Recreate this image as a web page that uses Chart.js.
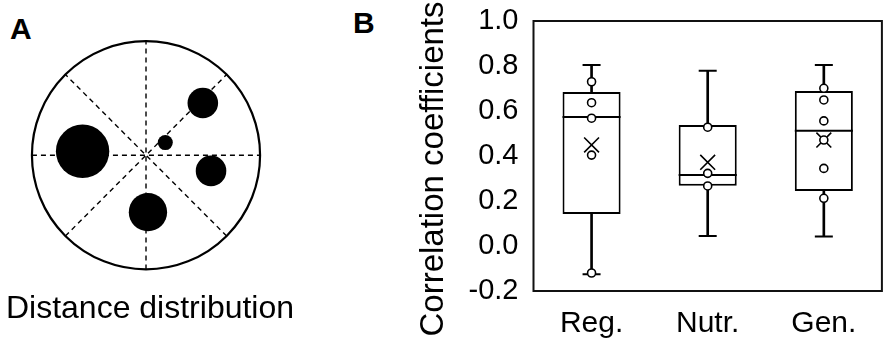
<!DOCTYPE html>
<html>
<head>
<meta charset="utf-8">
<script src="https://cdn.jsdelivr.net/npm/chart.js@4"></script>
<style>
    body { margin: 0; background: #fff; width: 894px; height: 347px; position: relative; overflow: hidden;
           font-family: "Liberation Sans", Arial, sans-serif; }
    .panel { position: absolute; top: 0; height: 347px; }
    #wrapA { left: 0; width: 300px; }
    #wrapB { left: 380px; width: 514px; }
    .tag { position: absolute; font-weight: bold; font-size: 30px; line-height: 1; color: #000; }
</style>
</head>
<body>
<div class="tag" style="left:10px; top:14px">A</div>
<div class="tag" style="left:353px; top:8px">B</div>
<div class="panel" id="wrapA"><canvas id="chartA" width="300" height="347"></canvas></div>
<div class="panel" id="wrapB"><canvas id="chartB" width="514" height="347"></canvas></div>
<script>
// panel A: dots inside a unit circle (x, y, size relative to circle radius)
const dotX = [-0.556, 0.498, 0.169, 0.570, 0.017];
const dotY = [0.035, 0.457, 0.111, -0.137, -0.498];
const dotSize = [0.234, 0.134, 0.066, 0.134, 0.168];
const spokeAngles = [0, 45, 90, 135];

// panel B: box plot summary per group
const categories = ['Reg.', 'Nutr.', 'Gen.'];
const whiskerMin = [-0.125, 0.045, 0.042];
const q1 = [0.142, 0.268, 0.244];
const median = [0.573, 0.316, 0.512];
const q3 = [0.684, 0.538, 0.689];
const whiskerMax = [0.804, 0.779, 0.804];
const means = [0.449, 0.372, 0.471];
const regPoints = [-0.12, 0.404, 0.568, 0.637, 0.730];
const nutrPoints = [0.267, 0.323, 0.528];
const genPoints = [0.212, 0.345, 0.471, 0.556, 0.649, 0.701];
const yMin = -0.2, yMax = 1.0, yStep = 0.2;

const FONT = '"Liberation Sans", Arial, sans-serif';

// ---------- panel A ----------
const unitPx = chart => chart.scales.x.getPixelForValue(1) - chart.scales.x.getPixelForValue(0);
const dots = dotX.map((x, i) => ({ x: x, y: dotY[i], s: dotSize[i] }));
const spokes = spokeAngles.map(a => {
    const r = a * Math.PI / 180;
    return [{ x: -Math.cos(r), y: -Math.sin(r) }, { x: Math.cos(r), y: Math.sin(r) }];
});

new Chart(document.getElementById('chartA'), {
    type: 'scatter',
    data: {
        datasets: [
            { data: dots, pointRadius: ctx => ctx.raw.s * unitPx(ctx.chart),
              backgroundColor: '#000', borderWidth: 0, clip: false },
            { data: [{ x: 0, y: 0, s: 1 }], pointRadius: ctx => ctx.raw.s * unitPx(ctx.chart),
              backgroundColor: 'rgba(0,0,0,0)', borderColor: '#000', borderWidth: 2.2, clip: false },
            ...spokes.map(s => ({
                type: 'line', data: s, borderColor: '#000', borderWidth: 1.4,
                borderDash: [5, 4], pointRadius: 0, clip: false
            }))
        ]
    },
    options: {
        responsive: false,
        animation: false,
        events: [],
        layout: { padding: { top: 41, bottom: 0, left: 0, right: 0 } },
        scales: {
            x: { type: 'linear', min: -1.28, max: 1.35, display: false },
            y: { type: 'linear', min: -1, max: 1, display: false }
        },
        plugins: {
            legend: { display: false },
            tooltip: { enabled: false },
            title: {
                display: true, position: 'bottom', text: 'Distance distribution', color: '#000',
                font: { size: 32, weight: 'normal', family: FONT },
                padding: { top: 20.3, bottom: 18.8 }
            }
        }
    }
});

// ---------- panel B ----------
const groupPoints = [regPoints, nutrPoints, genPoints];
const pointData = groupPoints.flatMap((pts, i) => pts.map(v => ({ x: categories[i], y: v })));
const meanData = categories.map((c, i) => ({ x: c, y: means[i] }));
const medianData = categories.map((c, i) => ({ x: c, y: median[i] }));
const capData = categories.flatMap((c, i) => [{ x: c, y: whiskerMin[i] }, { x: c, y: whiskerMax[i] }]);
const boxes = categories.map((c, i) => [q1[i], q3[i]]);
const whiskers = categories.map((c, i) => [whiskerMin[i], whiskerMax[i]]);

const halfBox = chart => chart.scales.x.width / categories.length * 0.25;

// plot-area frame (all four sides)
const frame = {
    id: 'frame',
    beforeDatasetsDraw(chart) {
        const { ctx, chartArea: a } = chart;
        ctx.save();
        ctx.lineWidth = 2;
        ctx.strokeStyle = '#111';
        ctx.strokeRect(a.left, a.top, a.right - a.left, a.bottom - a.top);
        ctx.restore();
    }
};

// rotated y-axis title, which runs past the plot area in the original
const yTitle = {
    id: 'yTitle',
    afterDraw(chart, args, opts) {
        const { ctx } = chart;
        ctx.save();
        ctx.translate(opts.x, opts.y);
        ctx.rotate(-Math.PI / 2);
        ctx.font = opts.size + 'px ' + FONT;
        ctx.fillStyle = '#000';
        ctx.textAlign = 'center';
        ctx.textBaseline = 'middle';
        ctx.fillText(opts.text, 0, 0);
        ctx.restore();
    }
};

new Chart(document.getElementById('chartB'), {
    type: 'bar',
    data: {
        labels: categories,
        datasets: [
            { type: 'scatter', data: pointData, pointStyle: 'circle', pointRadius: 4,
              borderColor: '#000', backgroundColor: '#fff', borderWidth: 1.6 },
            { type: 'scatter', data: meanData, pointStyle: 'crossRot', pointRadius: 10.5,
              borderColor: '#000', borderWidth: 1.6 },
            { type: 'scatter', data: medianData, pointStyle: 'line', pointRadius: ctx => halfBox(ctx.chart),
              borderColor: '#000', borderWidth: 2 },
            { data: boxes, backgroundColor: '#fff', borderColor: '#000', borderWidth: 2,
              borderSkipped: false, barPercentage: 0.5, categoryPercentage: 1, grouped: false },
            { type: 'scatter', data: capData, pointStyle: 'line', pointRadius: 9,
              borderColor: '#000', borderWidth: 2 },
            { data: whiskers, backgroundColor: '#000', barThickness: 2, grouped: false }
        ]
    },
    options: {
        responsive: false,
        animation: false,
        events: [],
        layout: { padding: { top: 21, right: 7, bottom: 5, left: 0 } },
        scales: {
            x: {
                type: 'category',
                grid: { display: false, drawTicks: false },
                border: { display: false },
                ticks: { color: '#000', padding: 15, maxRotation: 0, font: { size: 30, family: FONT } },
                afterFit: s => { s.height = 51; }
            },
            y: {
                min: yMin, max: yMax,
                grid: { display: false, drawTicks: false },
                border: { display: false },
                ticks: { stepSize: yStep, color: '#000', padding: 15,
                         font: { size: 29, family: FONT },
                         callback: v => (Math.abs(v) < 1e-9 ? 0 : Number(v)).toFixed(1) },
                afterFit: s => { s.width = 153.5; s.paddingTop = 0; s.paddingBottom = 0; }
            }
        },
        plugins: {
            legend: { display: false },
            tooltip: { enabled: false },
            yTitle: { text: 'Correlation coefficients', size: 33, x: 54, y: 169 }
        }
    },
    plugins: [frame, yTitle]
});
</script>
</body>
</html>
